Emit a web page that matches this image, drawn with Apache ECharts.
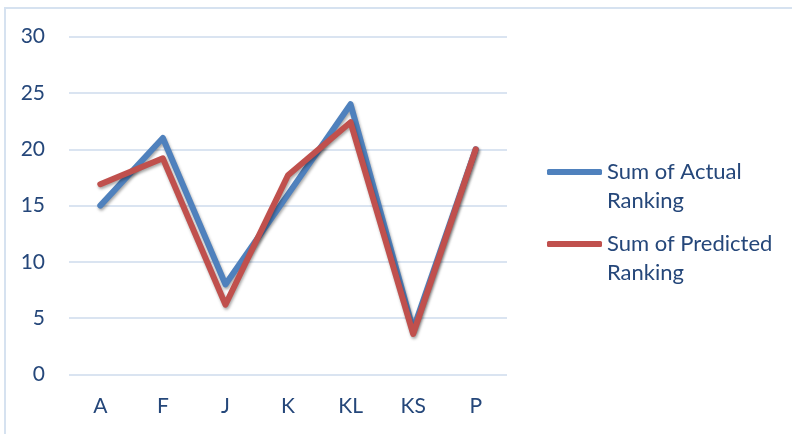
<!DOCTYPE html>
<html>
<head>
<meta charset="utf-8">
<script src="https://cdn.jsdelivr.net/npm/echarts@6/dist/echarts.min.js"></script>
<style>
  html, body { margin: 0; padding: 0; background: #ffffff; }
  #chart { width: 792px; height: 434px; }
</style>
</head>
<body>
<div id="chart"></div>
<script>
// Rankings per group
const categories = ['A', 'F', 'J', 'K', 'KL', 'KS', 'P'];
const actualRanking = [15, 21, 8, 16, 24, 4, 20];
const predictedRanking = [16.9, 19.2, 6.2, 17.7, 22.4, 3.6, 20];
const seriesNames = ['Sum of Actual\nRanking', 'Sum of Predicted\nRanking'];
const seriesColors = ['#4F81BD', '#C0504D'];

const textColor = '#25477A';
const fontFamily = 'Lato, "Liberation Sans", sans-serif';

const chart = echarts.init(document.getElementById('chart'), null, { renderer: 'canvas' });

// One legend per series; the leading blank line keeps the marker level with the first text line
function legendFor(name, top) {
  return {
    data: [name],
    left: 547,
    top: top,
    orient: 'vertical',
    padding: 0,
    itemWidth: 55,
    itemHeight: 6,
    itemGap: 0,
    icon: 'roundRect',
    selectedMode: false,
    formatter: function (n) { return '\n' + n; },
    textStyle: {
      color: textColor,
      fontFamily: fontFamily,
      fontSize: 22,
      lineHeight: 29
    }
  };
}

const lineShadow = {
  shadowColor: 'rgba(0,0,0,0.35)',
  shadowBlur: 3,
  shadowOffsetX: 1,
  shadowOffsetY: 2
};

chart.setOption({
  animation: false,
  backgroundColor: '#ffffff',
  graphic: [{
    type: 'rect',
    shape: { x: 5, y: 8, width: 820, height: 460 },
    style: { fill: 'none', stroke: '#D6E2F0', lineWidth: 2 },
    silent: true,
    z: -10
  }],
  legend: [
    legendFor(seriesNames[0], 172 - 43.5),
    legendFor(seriesNames[1], 244 - 43.5)
  ],
  grid: { left: 69, right: 285, top: 36.7, bottom: 59.5, containLabel: false },
  xAxis: {
    type: 'category',
    data: categories,
    boundaryGap: true,
    axisLine: { show: false },
    axisTick: { show: false },
    axisLabel: { color: textColor, fontFamily: fontFamily, fontSize: 21, margin: 21 }
  },
  yAxis: {
    type: 'value',
    min: 0,
    max: 30,
    interval: 5,
    axisLine: { show: false },
    axisTick: { show: false },
    axisLabel: { color: textColor, fontFamily: fontFamily, fontSize: 21, margin: 24 },
    splitLine: { lineStyle: { color: '#DAE4F1', width: 2 } }
  },
  series: [
    {
      name: seriesNames[0],
      type: 'line',
      data: actualRanking,
      symbol: 'none',
      color: seriesColors[0],
      lineStyle: Object.assign({ width: 6, color: seriesColors[0], cap: 'round', join: 'round' }, lineShadow),
      z: 2
    },
    {
      name: seriesNames[1],
      type: 'line',
      data: predictedRanking,
      symbol: 'none',
      color: seriesColors[1],
      lineStyle: Object.assign({ width: 6, color: seriesColors[1], cap: 'round', join: 'round' }, lineShadow),
      z: 3
    }
  ]
});
</script>
</body>
</html>
